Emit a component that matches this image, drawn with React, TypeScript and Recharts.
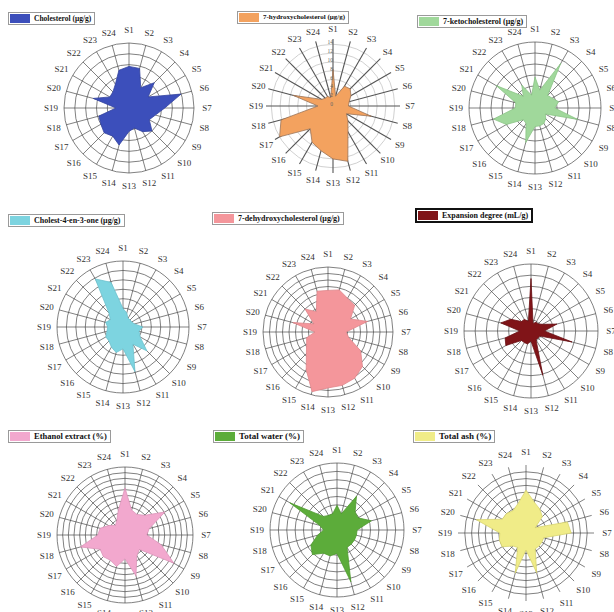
import React from 'react';
import { RadarChart, Radar, PolarGrid, PolarAngleAxis, PolarRadiusAxis } from 'recharts';

const categories = ['S1','S2','S3','S4','S5','S6','S7','S8','S9','S10','S11','S12','S13','S14','S15','S16','S17','S18','S19','S20','S21','S22','S23','S24'];

const cholesterol = [1920,1890,1080,1650,1020,2490,1650,1260,1080,1500,1260,960,1080,1770,1500,1620,1500,1440,600,1710,1020,1050,1260,1800];
const hydroxycholesterol7 = [8.3,2.3,5.2,5.5,4.7,3.8,3.5,9.0,3.5,4.8,6.8,13.0,12.0,10.5,9.5,7.3,14.0,12.2,3.4,9.4,3.0,2.5,2.5,2.0];
const ketocholesterol7 = [14.1,8.4,23.4,8.1,9.0,11.1,9.0,20.1,5.4,6.9,8.1,8.4,8.4,16.2,8.1,7.5,15.0,19.5,9.0,9.0,20.4,7.5,12.0,6.0];
const cholestenone = [9.8,7.7,5.3,5.3,5.3,6.3,10.5,8.8,10.5,17.9,10.5,24.5,11.6,14.0,12.3,10.5,10.5,8.8,8.1,9.5,7.7,10.5,29.4,24.5];
const dehydrocholesterol7 = [64,67,60,58,40,63,28,33,58,75,82,85,86,95,67,47,38,34,20,56,25,50,36,65];
const expansionDegree = [4.7,0.7,0.9,0.9,1.2,2.4,1.2,3.8,0.9,0.9,0.9,4.1,0.9,1.2,1.2,1.2,2.6,2.4,1.0,2.8,2.1,1.2,1.2,0.9];
const ethanolExtract = [1.66,0.91,0.84,0.98,1.63,0.89,0.77,1.32,1.99,0.72,0.84,1.49,0.84,1.15,1.03,1.08,1.01,1.63,0.96,0.91,0.67,0.48,0.58,0.91];
const totalWater = [5.9,4.0,9.3,6.1,5.8,8.5,4.8,4.8,4.8,4.8,4.8,12.8,5.6,6.4,6.4,8.3,7.2,4.8,3.2,4.3,13.0,4.6,4.0,4.0];
const totalAsh = [1.26,0.94,0.81,0.68,0.31,1.26,1.33,0.54,0.54,0.54,0.54,1.21,0.5,1.22,0.49,0.54,0.81,0.81,0.77,1.51,0.81,0.81,0.76,0.9];

const ticksCholesterol = [0,500,1000,1500,2000,2500,3000];
const ticksHydroxy = [0,2,4,6,8,10,12,14];
const ticksKeto = [0,5,10,15,20,25,30];
const ticksCholestenone = [0,5,10,15,20,25,30,35];
const ticksDehydro = [0,10,20,30,40,50,60,70,80,90,100];
const ticksExpansion = [0,1,2,3,4,5,6];
const ticksEthanol = [0,0.2,0.4,0.6,0.8,1.0,1.2,1.4,1.6,1.8,2.0,2.2,2.4];
const ticksWater = [0,2,4,6,8,10,12,14,16];
const ticksAsh = [0,0.2,0.4,0.6,0.8,1.0,1.2,1.4,1.6,1.8];

type ChartCfg = {
  name: string;
  values: number[];
  ticks: number[];
  domainMax: number;
  fill: string;
  stroke: string;
  cx: number;
  cy: number;
  r: number;
  labelGap: number;
  legendLeft: number;
  legendTop: number;
  legendFont: number;
  legendBorder: string;
  lightRings?: boolean;
  showRadiusTicks?: boolean;
};

const charts: ChartCfg[] = [
  { name: 'Cholesterol (μg/g)', values: cholesterol, ticks: ticksCholesterol, domainMax: 3000, fill: '#3c4fbb', stroke: '#34449f', cx: 129, cy: 108, r: 65, labelGap: 5, legendLeft: 8, legendTop: 12, legendFont: 7.5, legendBorder: '1px solid #9a9a9a' },
  { name: '7-hydroxycholesterol (μg/g)', values: hydroxycholesterol7, ticks: ticksHydroxy, domainMax: 15.2, fill: '#f3a25f', stroke: '#9a7458', cx: 333, cy: 106, r: 67, labelGap: 2, legendLeft: 237, legendTop: 11, legendFont: 7, legendBorder: '1px solid #9a9a9a', lightRings: true, showRadiusTicks: true },
  { name: '7-ketocholesterol (μg/g)', values: ketocholesterol7, ticks: ticksKeto, domainMax: 30, fill: '#a0d89b', stroke: '#8cc487', cx: 535, cy: 108, r: 66, labelGap: 5, legendLeft: 417, legendTop: 15, legendFont: 8, legendBorder: '1px solid #9a9a9a' },
  { name: 'Cholest-4-en-3-one (μg/g)', values: cholestenone, ticks: ticksCholestenone, domainMax: 35, fill: '#7dd4e0', stroke: '#6cc2ce', cx: 123, cy: 327, r: 66, labelGap: 5, legendLeft: 8, legendTop: 214, legendFont: 8, legendBorder: '1px solid #9a9a9a' },
  { name: '7-dehydroxycholesterol (μg/g)', values: dehydrocholesterol7, ticks: ticksDehydro, domainMax: 100, fill: '#f4969b', stroke: '#e0868b', cx: 328, cy: 332, r: 65, labelGap: 5, legendLeft: 212, legendTop: 212, legendFont: 8, legendBorder: '1px solid #9a9a9a' },
  { name: 'Expansion degree (mL/g)', values: expansionDegree, ticks: ticksExpansion, domainMax: 6, fill: '#801418', stroke: '#6a1014', cx: 531, cy: 331, r: 67, labelGap: 5, legendLeft: 415, legendTop: 208, legendFont: 8, legendBorder: '2px solid #111' },
  { name: 'Ethanol extract (%)', values: ethanolExtract, ticks: ticksEthanol, domainMax: 2.4, fill: '#f2a8ce', stroke: '#dc95ba', cx: 125, cy: 535, r: 68, labelGap: 5, legendLeft: 8, legendTop: 430, legendFont: 8.5, legendBorder: '1px solid #9a9a9a' },
  { name: 'Total water (%)', values: totalWater, ticks: ticksWater, domainMax: 16, fill: '#5cac3a', stroke: '#4f9a30', cx: 337, cy: 530, r: 67, labelGap: 5, legendLeft: 213, legendTop: 430, legendFont: 9, legendBorder: '1px solid #9a9a9a' },
  { name: 'Total ash (%)', values: totalAsh, ticks: ticksAsh, domainMax: 1.8, fill: '#f0ec88', stroke: '#d8d470', cx: 526, cy: 533, r: 68, labelGap: 5, legendLeft: 413, legendTop: 430, legendFont: 9, legendBorder: '1px solid #9a9a9a' },
];

const SERIF = '"Liberation Serif", "DejaVu Serif", serif';

function makeTick(gap: number) {
  return (props: any) => {
    const { x, y, payload } = props;
    const a = ((payload.coordinate ?? 0) * Math.PI) / 180;
    const tx = x + gap * Math.cos(a);
    const ty = y - gap * Math.sin(a);
    return (
      <text x={tx} y={ty} textAnchor="middle" dominantBaseline="central" fontFamily={SERIF} fontSize={9} fill="#333">
        {payload.value}
      </text>
    );
  };
}

const BOX = 220;
const HALF = BOX / 2;

function OneRadar({ c }: { c: ChartCfg }) {
  const rows = categories.map((cat, i) => ({ cat, v: c.values[i] }));
  return (
    <div style={{ position: 'absolute', left: c.cx - HALF, top: c.cy - HALF, width: BOX, height: BOX }}>
      <RadarChart width={BOX} height={BOX} data={rows} cx={HALF} cy={HALF} outerRadius={c.r} margin={{ top: 0, right: 0, bottom: 0, left: 0 }}>
        {c.lightRings ? (
          <>
            <PolarGrid gridType="circle" polarAngles={[]} stroke="#c4c4c4" strokeWidth={0.8} />
            <PolarGrid gridType="circle" polarRadius={[]} stroke="#555" strokeWidth={1.1} />
          </>
        ) : (
          <PolarGrid gridType="circle" stroke="#4a4a4a" strokeWidth={0.7} />
        )}
        <PolarAngleAxis dataKey="cat" tick={makeTick(c.labelGap)} tickLine={false} axisLine={false} />
        <PolarRadiusAxis
          angle={90}
          orientation="left"
          domain={[0, c.domainMax]}
          ticks={c.ticks as any}
          axisLine={false}
          tick={c.showRadiusTicks ? { fontSize: 5.5, fill: '#666', fontFamily: SERIF } : false}
        />
        <Radar dataKey="v" fill={c.fill} fillOpacity={1} stroke={c.stroke} strokeWidth={0.8} isAnimationActive={false} />
      </RadarChart>
    </div>
  );
}

function LegendBox({ c }: { c: ChartCfg }) {
  return (
    <div
      style={{
        position: 'absolute',
        left: c.legendLeft,
        top: c.legendTop,
        display: 'flex',
        alignItems: 'center',
        border: c.legendBorder,
        background: '#fff',
        padding: '1px 3px 1px 1px',
        fontFamily: SERIF,
        fontWeight: 'bold',
        fontSize: c.legendFont,
        lineHeight: 1,
        whiteSpace: 'nowrap',
        color: '#111',
      }}
    >
      <span style={{ display: 'inline-block', width: 20, height: 9, background: c.fill, marginRight: 4 }} />
      {c.name}
    </div>
  );
}

export default function App() {
  return (
    <div style={{ position: 'absolute', left: 0, top: 0, width: 614, height: 612, overflow: 'hidden', background: '#fff' }}>
      {charts.map((c) => (
        <OneRadar key={c.name} c={c} />
      ))}
      {charts.map((c) => (
        <LegendBox key={'lg' + c.name} c={c} />
      ))}
    </div>
  );
}
